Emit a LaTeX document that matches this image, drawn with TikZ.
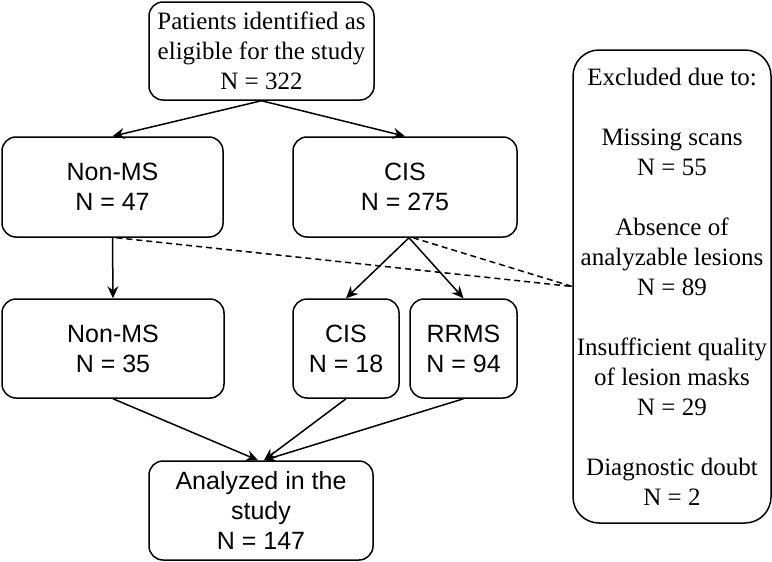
\documentclass[tikz,border=0pt]{standalone}
\usepackage{fontspec}
\setmainfont{Liberation Serif}
\newfontfamily\sansf{Liberation Sans}
\usetikzlibrary{arrows.meta}
\begin{document}
\begin{tikzpicture}[x=1pt,y=-1pt,
  box/.style={draw, line width=1.5pt, rounded corners=14pt, align=center, inner sep=2pt},
  sbox/.style={box, font=\sansf\fontsize{25}{30}\selectfont},
  rbox/.style={box, font=\fontsize{25}{30}\selectfont},
  arr/.style={line width=1.5pt, -{Stealth[length=12pt,width=11pt,inset=4pt]}},
  dsh/.style={line width=1.5pt, dash pattern=on 6pt off 4pt}]
\useasboundingbox (0,0) rectangle (772,562);
\node[rbox, minimum width=225pt, minimum height=98pt] (top) at (261.5,51) {Patients identified as\\eligible for the study\\N = 322};
\node[sbox, minimum width=221pt, minimum height=100pt] (n1) at (112.5,187) {Non-MS\\N = 47};
\node[sbox, minimum width=224pt, minimum height=100pt] (c1) at (405,187) {CIS\\N = 275};
\node[sbox, minimum width=222pt, minimum height=99pt] (n2) at (113,348.5) {Non-MS\\N = 35};
\node[sbox, minimum width=106pt, minimum height=99pt] (c2) at (346,348.5) {CIS\\N = 18};
\node[sbox, minimum width=107pt, minimum height=99pt] (rr) at (463.5,348.5) {RRMS\\N = 94};
\node[sbox, minimum width=224pt, minimum height=99pt] (an) at (261,510.5) {Analyzed in the\\study\\N = 147};
\node[rbox, rounded corners=26pt, minimum width=198pt, minimum height=473pt] (ex) at (672,286.5) {Excluded due to:\\[30pt]Missing scans\\N = 55\\[30pt]Absence of\\analyzable lesions\\N = 89\\[30pt]Insufficient quality\\of lesion masks\\N = 29\\[30pt]Diagnostic doubt\\N = 2};
\draw[arr] (top.south) -- (n1.north);
\draw[arr] (top.south) -- (c1.north);
\draw[arr] (n1.south) -- (n2.north);
\draw[arr] ([xshift=4pt]c1.south) -- (c2.north);
\draw[arr] ([xshift=4pt]c1.south) -- (rr.north);
\draw[dsh] ([xshift=4pt]n1.south) -- (ex.west);
\draw[dsh] ([xshift=8pt]c1.south) -- (ex.west);
\draw[arr] (n2.south) -- ([xshift=-3pt]an.north);
\draw[arr] (c2.south) -- ([xshift=3pt]an.north);
\draw[arr] (rr.south) -- ([xshift=3pt]an.north);
\end{tikzpicture}
\end{document}
